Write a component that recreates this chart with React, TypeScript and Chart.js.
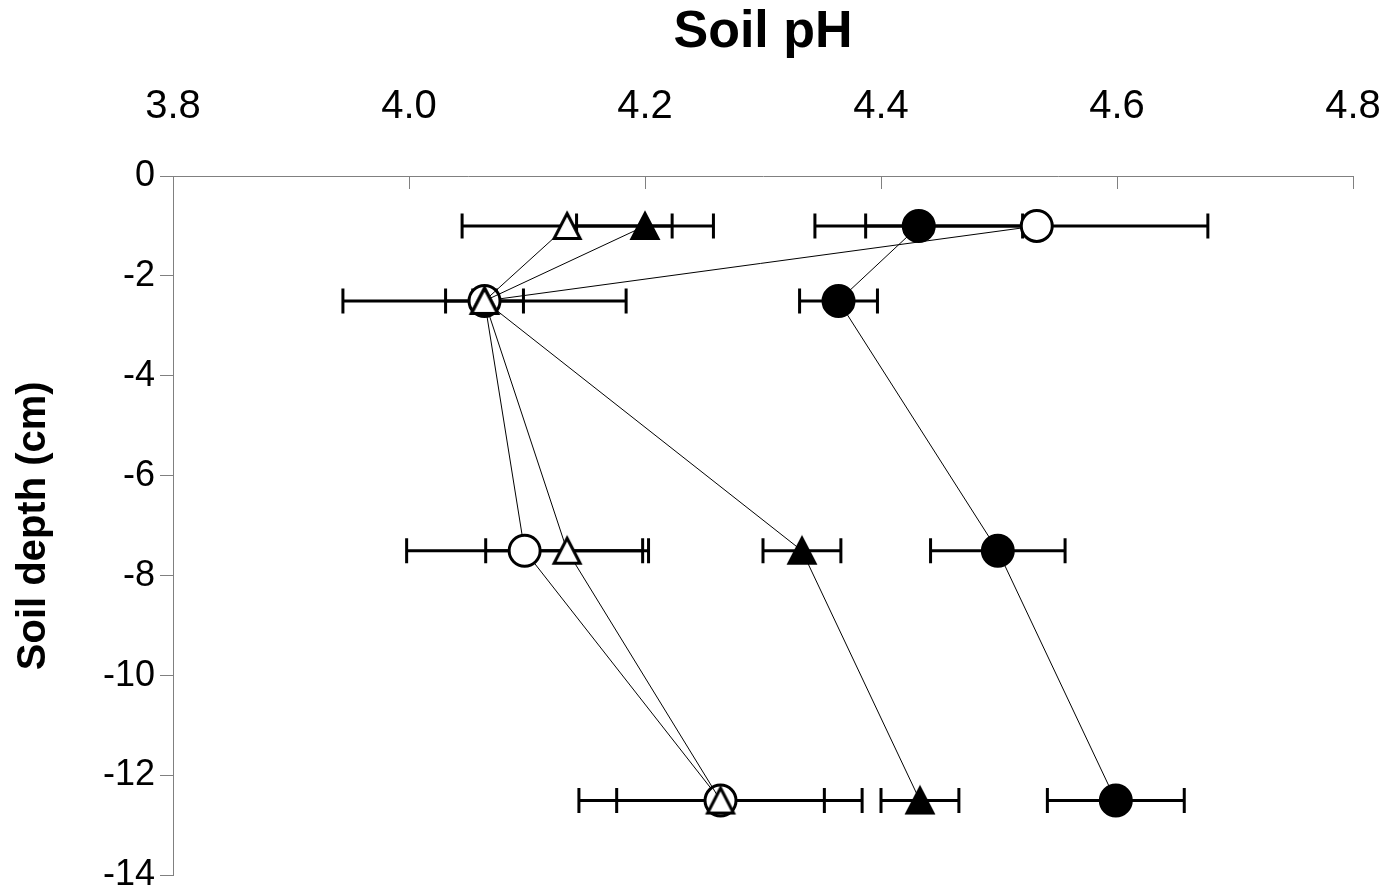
import React, { useEffect, useRef } from "react";
import { Chart, registerables } from "chart.js";

Chart.register(...registerables);

const FONT = "Arial, 'Liberation Sans', sans-serif";

const depths = [-1, -2.5, -7.5, -12.5];

const filledCirclePH = [4.432, 4.364, 4.499, 4.599];
const filledCircleErr = [0.088, 0.033, 0.057, 0.058];

const openCirclePH = [4.532, 4.064, 4.098, 4.264];
const openCircleErr = [0.145, 0.12, 0.1, 0.12];

const filledTrianglePH = [4.2, 4.064, 4.333, 4.433];
const filledTriangleErr = [0.058, 0.033, 0.033, 0.033];

const openTrianglePH = [4.134, 4.064, 4.134, 4.264];
const openTriangleErr = [0.089, 0.01, 0.069, 0.088];

const xTickValues = [3.8, 4.0, 4.2, 4.4, 4.6, 4.8];
const yTickValues = [0, -2, -4, -6, -8, -10, -12, -14];

function makeTriangle(filled: boolean): HTMLCanvasElement {
  const c = document.createElement("canvas");
  c.width = 44;
  c.height = 44;
  const ctx = c.getContext("2d")!;
  ctx.beginPath();
  ctx.moveTo(22, 9.5);
  ctx.lineTo(35, 34.5);
  ctx.lineTo(9, 34.5);
  ctx.closePath();
  ctx.fillStyle = filled ? "#000" : "#fff";
  ctx.fill();
  ctx.lineWidth = 3;
  ctx.lineJoin = "miter";
  ctx.strokeStyle = "#000";
  ctx.stroke();
  return c;
}

const errorBarPlugin = {
  id: "errorBars",
  beforeDatasetsDraw(chart: any) {
    const ctx = chart.ctx;
    const xs = chart.scales.x;
    const ys = chart.scales.y;
    ctx.save();
    ctx.strokeStyle = "#000";
    ctx.lineWidth = 3;
    chart.data.datasets.forEach((ds: any) => {
      const errs: number[] = ds.errors;
      ds.data.forEach((p: any, i: number) => {
        const y = ys.getPixelForValue(p.y);
        const x1 = xs.getPixelForValue(p.x - errs[i]);
        const x2 = xs.getPixelForValue(p.x + errs[i]);
        ctx.beginPath();
        ctx.moveTo(x1, y);
        ctx.lineTo(x2, y);
        ctx.moveTo(x1, y - 12.5);
        ctx.lineTo(x1, y + 12.5);
        ctx.moveTo(x2, y - 12.5);
        ctx.lineTo(x2, y + 12.5);
        ctx.stroke();
      });
    });
    ctx.restore();
  },
};

const innerTickPlugin = {
  id: "innerTicks",
  beforeDatasetsDraw(chart: any) {
    const ctx = chart.ctx;
    const xs = chart.scales.x;
    const top = chart.chartArea.top;
    ctx.save();
    ctx.strokeStyle = "#808080";
    ctx.lineWidth = 1;
    xs.ticks.forEach((t: any) => {
      const px = Math.round(xs.getPixelForValue(t.value)) + 0.5;
      ctx.beginPath();
      ctx.moveTo(px, top);
      ctx.lineTo(px, top + 13);
      ctx.stroke();
    });
    ctx.restore();
  },
};

function toPoints(xsv: number[]) {
  return xsv.map((x, i) => ({ x, y: depths[i] }));
}

export default function App() {
  const canvasRef = useRef<HTMLCanvasElement | null>(null);

  useEffect(() => {
    const canvas = canvasRef.current;
    if (!canvas) return;
    const triFilled = makeTriangle(true);
    const triOpen = makeTriangle(false);

    const lineCommon = {
      showLine: true,
      borderColor: "#000",
      borderWidth: 1,
      pointBorderColor: "#000",
      pointBorderWidth: 3,
      pointRadius: 15.5,
      pointHoverRadius: 15.5,
      tension: 0,
    };

    const chart = new Chart(canvas, {
      type: "scatter",
      data: {
        datasets: [
          {
            ...lineCommon,
            label: "Filled circles",
            data: toPoints(filledCirclePH),
            errors: filledCircleErr,
            pointStyle: "circle",
            pointBackgroundColor: "#000",
            order: 4,
          } as any,
          {
            ...lineCommon,
            label: "Open circles",
            data: toPoints(openCirclePH),
            errors: openCircleErr,
            pointStyle: "circle",
            pointBackgroundColor: "#fff",
            order: 3,
          } as any,
          {
            ...lineCommon,
            label: "Filled triangles",
            data: toPoints(filledTrianglePH),
            errors: filledTriangleErr,
            pointStyle: triFilled,
            order: 2,
          } as any,
          {
            ...lineCommon,
            label: "Open triangles",
            data: toPoints(openTrianglePH),
            errors: openTriangleErr,
            pointStyle: triOpen,
            order: 1,
          } as any,
        ],
      },
      options: {
        animation: false,
        responsive: false,
        devicePixelRatio: 1,
        layout: { padding: { left: 0, top: 0, right: 40, bottom: 14 } },
        plugins: {
          legend: { display: false },
          tooltip: { enabled: false },
        },
        scales: {
          x: {
            type: "linear",
            position: "top",
            min: 3.8,
            max: 4.8,
            afterBuildTicks: (s: any) => {
              s.ticks = xTickValues.map((v) => ({ value: v }));
            },
            afterFit: (s: any) => {
              s.height = 176;
              s.paddingLeft = 0;
              s.paddingRight = 0;
              s.paddingTop = 0;
              s.paddingBottom = 0;
            },
            ticks: {
              padding: 45,
              color: "#000",
              font: { family: FONT, size: 40 },
              maxRotation: 0,
              autoSkip: false,
              callback: (v: any) => Number(v).toFixed(1),
            },
            grid: { display: false, drawTicks: false },
            border: { display: true, color: "#808080", width: 1 },
            title: {
              display: true,
              text: "Soil pH",
              color: "#000",
              font: { family: FONT, size: 52, weight: "bold" },
              padding: { top: 1, bottom: 0 },
            },
          },
          y: {
            type: "linear",
            min: -14,
            max: 0,
            afterBuildTicks: (s: any) => {
              s.ticks = yTickValues.map((v) => ({ value: v }));
            },
            afterFit: (s: any) => {
              s.width = 173;
              s.paddingLeft = 0;
              s.paddingRight = 0;
              s.paddingTop = 0;
              s.paddingBottom = 0;
            },
            ticks: {
              padding: 5,
              color: "#000",
              font: { family: FONT, size: 36 },
              autoSkip: false,
              callback: (v: any) => String(v),
            },
            grid: {
              display: true,
              drawOnChartArea: false,
              drawTicks: true,
              tickLength: 13,
              color: "#808080",
              lineWidth: 1,
            },
            border: { display: true, color: "#808080", width: 1 },
            title: {
              display: true,
              text: "Soil depth (cm)",
              color: "#000",
              font: { family: FONT, size: 40, weight: "bold" },
              padding: { top: 10, bottom: 0 },
            },
          },
        },
      } as any,
      plugins: [innerTickPlugin, errorBarPlugin],
    });

    return () => {
      chart.destroy();
    };
  }, []);

  return (
    <div style={{ position: "absolute", left: 0, top: 0, width: 1393, height: 894, background: "#fff" }}>
      <canvas ref={canvasRef} width={1393} height={894} style={{ display: "block" }} />
    </div>
  );
}
